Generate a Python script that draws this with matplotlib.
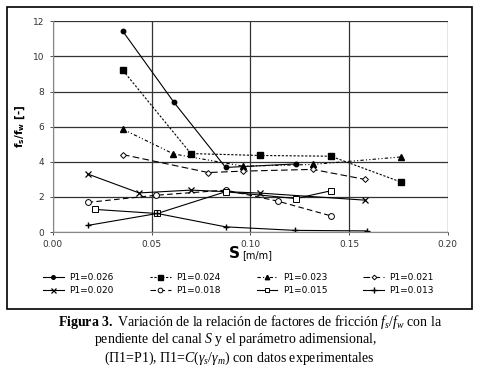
import matplotlib.pyplot as plt
from matplotlib.patches import Rectangle

plt.rcParams['mathtext.fontset'] = 'custom'
plt.rcParams['mathtext.rm'] = 'Liberation Serif'
plt.rcParams['mathtext.it'] = 'Liberation Serif:italic'
plt.rcParams['mathtext.bf'] = 'Liberation Serif:bold'

# data (S [m/m] vs fs/fw [-])
s_026 = [0.0355, 0.0613, 0.0875, 0.123]
f_026 = [11.42, 7.39, 3.68, 3.88]
s_024 = [0.0355, 0.0699, 0.105, 0.1407, 0.1765]
f_024 = [9.2, 4.47, 4.36, 4.32, 2.84]
s_023 = [0.0355, 0.0611, 0.0964, 0.1316, 0.1765]
f_023 = [5.85, 4.45, 3.75, 3.85, 4.28]
s_021 = [0.0355, 0.0787, 0.0964, 0.1316, 0.158]
f_021 = [4.41, 3.39, 3.47, 3.57, 3.0]
s_020 = [0.0176, 0.0437, 0.0699, 0.105, 0.158]
f_020 = [3.31, 2.23, 2.39, 2.22, 1.82]
s_018 = [0.0176, 0.0525, 0.0875, 0.114, 0.1407]
f_018 = [1.69, 2.1, 2.39, 1.76, 0.93]
s_015 = [0.0216, 0.0529, 0.0875, 0.123, 0.1407]
f_015 = [1.29, 1.06, 2.3, 1.91, 2.35]
s_013 = [0.0176, 0.0529, 0.0875, 0.1226, 0.159]
f_013 = [0.38, 1.06, 0.3, 0.1, 0.07]

fig = plt.figure(figsize=(4.8, 3.72), dpi=100)
ax = fig.add_axes([0.110, 0.376, 0.823, 0.567])

k = dict(color='black', lw=0.8)
l1, = ax.plot(s_026, f_026, '-', marker='o', ms=3.2, label='P1=0.026', **k)
l2, = ax.plot(s_024, f_024, linestyle=(0, (2, 1.5)), marker='s', ms=4.5, label='P1=0.024', **k)
l3, = ax.plot(s_023, f_023, linestyle=(0, (3, 2, 1, 2, 1, 2)), marker='^', ms=4, label='P1=0.023', **k)
l4, = ax.plot(s_021, f_021, linestyle=(0, (6, 3)), marker='D', ms=3, mfc='white', mew=0.7, label='P1=0.021', **k)
l5, = ax.plot(s_020, f_020, '-', marker='x', ms=4.5, mew=0.9, label='P1=0.020', **k)
l6, = ax.plot(s_018, f_018, linestyle=(0, (5, 3)), marker='o', ms=4.2, mfc='white', mew=0.7, label='P1=0.018', **k)
l7, = ax.plot(s_015, f_015, '-', marker='s', ms=4.2, mfc='white', mew=0.7, label='P1=0.015', **k)
l8, = ax.plot(s_013, f_013, '-', marker='+', ms=5, label='P1=0.013', **k)

ax.set_xlim(0, 0.20)
ax.set_ylim(0, 12)
ax.set_xticks([0.0, 0.05, 0.10, 0.15, 0.20])
ax.set_xticklabels(['0.00', '0.05', '0.10', '0.15', '0.20'])
ax.set_yticks(range(0, 13, 2))
ax.grid(True, color='#333333', lw=0.9)
ax.tick_params(labelsize=6.5, length=2.5, width=0.6, colors='#333333')
for sp in ['top', 'right']:
    ax.spines[sp].set_visible(False)
for sp in ['left', 'bottom']:
    ax.spines[sp].set_color('#888888')

ax.set_ylabel('$\\mathbf{f_s/f_w}$ [-]', fontsize=7.5, fontweight='bold', labelpad=4,
              math_fontfamily='dejavusans')
fig.text(0.5, 0.318, 'S', fontsize=11, fontweight='bold', ha='right', va='center')
fig.text(0.505, 0.315, '[m/m]', fontsize=7, ha='left', va='center')

handles = [l1, l5, l2, l6, l3, l7, l4, l8]
fig.legend(handles=handles, labels=[h.get_label() for h in handles], ncol=4,
           loc='center', bbox_to_anchor=(0.497, 0.236), frameon=False,
           fontsize=6.5, handlelength=2.3, columnspacing=4.0,
           labelspacing=0.5, handletextpad=0.6, markerscale=0.8)

# outer frame
fig.patches.append(Rectangle((7/480, 1-309/372), 465/480, 302/372,
                             transform=fig.transFigure, fill=False,
                             ec='black', lw=1.2))

cap = dict(ha='center', va='center', fontsize=10, family='Liberation Serif')
fig.text(0.52, 1-322/372, '$\\mathbf{Figura\\ 3.}$ Variación de la relación de factores de fricción $f_s/f_w$ con la', **cap)
fig.text(0.49, 1-340/372, 'pendiente del canal $S$ y el parámetro adimensional,', **cap)
fig.text(0.498, 1-358/372, '($\\Pi$1=P1), Π1=$C(\\gamma_s/\\gamma_m)$ con datos experimentales', **cap)

fig.savefig('out.png', dpi=100)
